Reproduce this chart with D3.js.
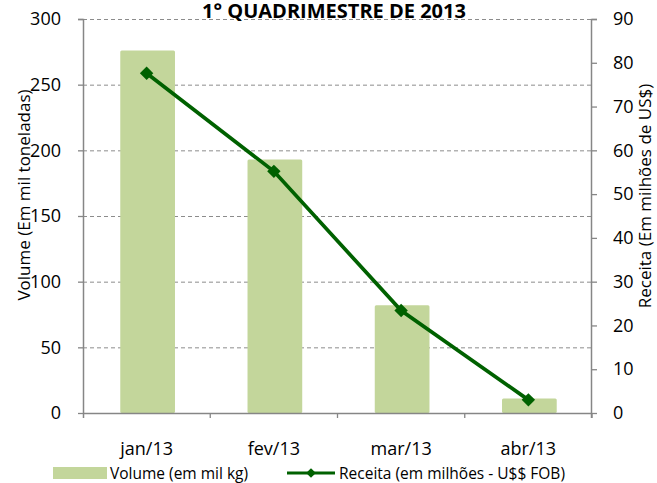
<!DOCTYPE html>
<html>
<head>
<meta charset="utf-8">
<script src="https://cdn.jsdelivr.net/npm/d3@7"></script>
<style>
  body { margin: 0; background: #fff; }
  svg text { font-family: "Open Sans", sans-serif; fill: #000; }
</style>
</head>
<body>
<div id="chart"></div>
<script>
"use strict";

// chart data
const months = ["jan/13", "fev/13", "mar/13", "abr/13"];
const volume = [276, 193, 82, 11];      // mil toneladas
const receita = [77.6, 55.2, 23.4, 3.0]; // milhões US$
const leftTicks = [0, 50, 100, 150, 200, 250, 300];
const rightTicks = [0, 10, 20, 30, 40, 50, 60, 70, 80, 90];

const width = 657, height = 483;
const margin = { top: 19, right: 65, bottom: 70, left: 83 };
const plotW = width - margin.left - margin.right;
const plotH = height - margin.top - margin.bottom;

const svg = d3.select("#chart").append("svg")
  .attr("width", width)
  .attr("height", height);

const g = svg.append("g")
  .attr("transform", "translate(" + margin.left + "," + margin.top + ")");

const x = d3.scaleBand().domain(months).range([0, plotW]);
const yL = d3.scaleLinear().domain([0, 300]).range([plotH, 0]);
const yR = d3.scaleLinear().domain([0, 90]).range([plotH, 0]);

const axisColor = "#868686";

// dashed gridlines
g.selectAll(".grid")
  .data(leftTicks.filter(d => d > 0))
  .enter().append("line")
  .attr("x1", 0).attr("x2", plotW)
  .attr("y1", d => yL(d) + 0.5).attr("y2", d => yL(d) + 0.5)
  .attr("stroke", "#8c8c8c")
  .attr("stroke-width", 1)
  .attr("stroke-dasharray", "4,3");

// bars
const barW = x.bandwidth() * 0.43;
g.selectAll(".bar")
  .data(volume)
  .enter().append("rect")
  .attr("x", (d, i) => x(months[i]) + x.bandwidth() / 2 - barW / 2 + 1)
  .attr("y", d => yL(d))
  .attr("width", barW)
  .attr("height", d => plotH - yL(d))
  .attr("rx", 1.5)
  .attr("fill", "#c3d69b");

// left axis
const leftAxis = g.append("g")
  .call(d3.axisLeft(yL).tickValues(leftTicks).tickSize(5).tickPadding(17));
// right axis
const rightAxis = g.append("g")
  .attr("transform", "translate(" + plotW + ",0)")
  .call(d3.axisRight(yR).tickValues(rightTicks).tickSize(5).tickPadding(16));
// bottom axis
const bottomAxis = g.append("g")
  .attr("transform", "translate(0," + plotH + ")")
  .call(d3.axisBottom(x).tickSize(0).tickPadding(29));

[leftAxis, rightAxis, bottomAxis].forEach(a => {
  a.select(".domain").attr("stroke", axisColor).attr("stroke-width", 1.5);
  a.selectAll(".tick line").attr("stroke", axisColor).attr("stroke-width", 1.3);
  a.selectAll("text").attr("font-size", "18px").attr("font-family", "Open Sans, sans-serif");
});
leftAxis.select(".domain").attr("d", "M-5,0.5H0.5V" + (plotH + 5));
rightAxis.select(".domain").attr("d", "M5,0.5H-0.5V" + (plotH + 5));
bottomAxis.select(".domain").attr("d", "M0,0.5H" + plotW);

// category separators on x axis
g.selectAll(".xsep")
  .data(months)
  .enter().append("line")
  .attr("x1", d => x(d) + x.bandwidth())
  .attr("x2", d => x(d) + x.bandwidth())
  .attr("y1", plotH).attr("y2", plotH + 5)
  .attr("stroke", axisColor).attr("stroke-width", 1.3);

// receita line
const line = d3.line()
  .x((d, i) => x(months[i]) + x.bandwidth() / 2)
  .y(d => yR(d));

g.append("path")
  .datum(receita)
  .attr("d", line)
  .attr("fill", "none")
  .attr("stroke", "#006100")
  .attr("stroke-width", 3.7);

const diamond = d3.symbol().type(d3.symbolDiamond2).size(115);
g.selectAll(".mk")
  .data(receita)
  .enter().append("path")
  .attr("d", diamond)
  .attr("transform", (d, i) => "translate(" + (x(months[i]) + x.bandwidth() / 2) + "," + yR(d) + ")")
  .attr("fill", "#006100");

// title
svg.append("text")
  .attr("x", 334).attr("y", 18)
  .attr("text-anchor", "middle")
  .attr("font-size", "20px")
  .attr("font-weight", "bold")
  .text("1° QUADRIMESTRE DE 2013");

// axis titles
svg.append("text")
  .attr("transform", "translate(30,195) rotate(-90)")
  .attr("text-anchor", "middle")
  .attr("font-size", "17px")
  .text("Volume (Em mil toneladas)");

svg.append("text")
  .attr("transform", "translate(651,196) rotate(-90)")
  .attr("text-anchor", "middle")
  .attr("font-size", "17px")
  .text("Receita (Em milhões de US$)");

// legend
const legend = svg.append("g").attr("transform", "translate(0,473)");
legend.append("rect")
  .attr("x", 53).attr("y", -6).attr("width", 54).attr("height", 12)
  .attr("fill", "#c3d69b");
legend.append("text")
  .attr("x", 110).attr("y", 5.5)
  .attr("font-size", "15.5px")
  .text("Volume (em mil kg)");
legend.append("line")
  .attr("x1", 287).attr("x2", 335).attr("y1", 0).attr("y2", 0)
  .attr("stroke", "#006100").attr("stroke-width", 3);
legend.append("path")
  .attr("d", d3.symbol().type(d3.symbolDiamond2).size(60))
  .attr("transform", "translate(311,0)")
  .attr("fill", "#006100");
legend.append("text")
  .attr("x", 339).attr("y", 5.5)
  .attr("font-size", "15.5px")
  .text("Receita (em milhões - U$$ FOB)");
</script>
</body>
</html>
